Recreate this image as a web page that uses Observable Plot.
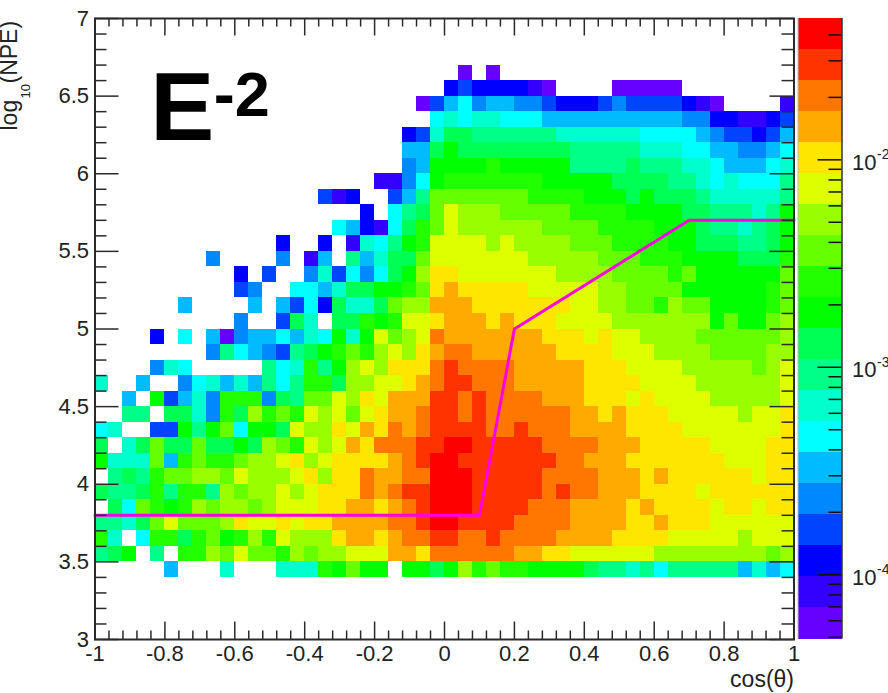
<!DOCTYPE html>
<html>
<head>
<meta charset="utf-8">
<script src="https://cdn.jsdelivr.net/npm/d3@7"></script>
<script src="https://cdn.jsdelivr.net/npm/@observablehq/plot@0.6"></script>
<style>
html,body{margin:0;padding:0;background:#fff;}
#wrap{position:relative;width:888px;height:693px;overflow:hidden;}
#wrap svg{position:absolute;left:0;top:0;display:block;max-width:none;background:transparent;}
</style>
</head>
<body>
<div id="wrap"></div>
<script>
// colour levels, bottom to top of the palette
const palette = ["#6600ff","#3300ff","#0000ff","#0044ff","#0088ff","#00bbff","#00ffff","#00ffcc","#00ff88","#00ff55","#00ff00","#22ff00","#66ff00","#99ff00","#ddff00","#ffe600","#ffaa00","#ff7700","#ff3300","#ff0000"];
const levelKeys = "abcdefghijklmnopqrst";
const zMin = 4.9e-5, zMax = 0.048;

// histogram rows, top row = log10(NPE) 6.6-6.7
const topRowStart = 6.6;
const histRows = [
".......... .......... ......a.a. .......... ..........",
".......... .......... .....cdccc cba....aaa aa........",
".......... .......... ...adfgeff eedcccdedd ddcba....b",
".......... .......... ....ghghhg ggffffffff ffeeccbbcd",
".......... .......... ..cdhjjiii iiihhhhhhg gggfeddcdf",
".......... .......... ..ffjkjjjj jjjjiiiiih hhggffeefg",
".......... .......... ..efkkkklk kkkkiiiiji iihhgfffgh",
".......... .......... bbegklllll llkkkkkjjj jiihghgggi",
".......... ......dbc. .dfimmmmmm mllllkkkjk jjjihhhhhi",
".......... .........c .gijmonnnm mmmmllllkk kkjjiiihik",
".......... .......gfc bgjlmonnnn nnmmmmllll kkkjiihijk",
".......... ...c..c.bh gikloooono nnnnmmmlll lkkjjjiijk",
"........e. ...e.bf.if hjjmoooooo onnnnnmmml llkkkkjjjl",
".......... c.d..ehdge gjknppoooo ooonnnnmmm mlmkkkkkkm",
".......... de..ggfhjj kklmpqpppp pooooonnmm mmkkkkkklm",
"......f... .f.fdgcjhh jmnnqqqppp ppppoonnmm lnmmkkkklm",
".......... e..djh.jjl kloopqqqpq pppoooonnn nnnnkmkkmn",
"....c.g.fa effgfhgkhk omnorqqqqq qqpppopoon nnnmmmmmmn",
"........ei gfedijklml nonpqrrqqq qqqppppooo nnnnmmmmnn",
"....ehg... ..ighlikno nppprsrrrr qqqqqpppoo oonnnnnmno",
"h..f..eghf hfigilljnn oopqrssrrr qqqqqppppo ooonnnnnno",
"..f.kdfhel llejimmonp oqqqssrsrr rrqqqpppop oooonnnnno",
"..ii.jjhel jnlmlonomo pqqrssrsrr rrrrqqpqpp pooooonoop",
"gh..ddkikm gkkjonnpoq prqrssssrr srrrqqqqpp ppooooooop",
"j.hjmjjmjj kjnmlonoqp rrrssttsss ssrrrrqqqp ppppoooopp",
"khhhmflmll mnnopnoppp pqrsttssss sssrrqqqpp pppppooopp",
".ijilmmnnm onnnopnppr qqrrtttsss ssrrrrqqqp qppppppopp",
"jiijlillin mnnonopppr qrsstttsss ssrsrrqqqp pppopppppp",
".jgmlklnmn nmnoooppqq pqrstttsss srrrqqqqpq ppppoppopp",
"iihjmommmn poopoppqqq qrrsttssss rrrrqqqqpp qpppoooooo",
"lh.glljlmk lnlonnnpqq pqrrssrrsr rrrqqqqppp pooooonooo",
"ijk.i.llnm ommlnmnnoo oqqprrrrrr qqppoooooo nnnnnnnnmn",
".....f...h ...hhhlkmk k.kkjknlml lkkkkjiihi giiiiifhfg"
];

// threshold line
const cutX = [-1, 0.1, 0.2, 0.7, 1];
const cutY = [3.8, 3.8, 5, 5.7, 5.7];

// tick values
const xMajor = [-1,-0.8,-0.6,-0.4,-0.2,0,0.2,0.4,0.6,0.8,1];
const yMajor = [3,3.5,4,4.5,5,5.5,6,6.5,7];
const zMajor = [1e-4,1e-3,1e-2];
const zExp = ["-4","-3","-2"];
const xMinor = d3.range(0,51).map(i => -1 + i*0.04).filter(v => !xMajor.some(m => Math.abs(m-v) < 1e-6));
const yMinor = d3.range(0,41).map(i => 3 + i*0.1).filter(v => !yMajor.some(m => Math.abs(m-v) < 1e-6));
const zMinor = [];
for (const d of [1e-5,1e-4,1e-3,1e-2]) for (const k of [2,3,4,5,6,7,8,9]) { const v=d*k; if (v>zMin && v<zMax) zMinor.push(v); }

const logMin = Math.log10(zMin), logStep = (Math.log10(zMax)-logMin)/palette.length;
const edges = d3.range(0,palette.length+1).map(i => Math.pow(10, logMin + i*logStep));

const cells = [];
histRows.forEach((row, ri) => {
  const s = row.replace(/ /g,"");
  const yLow = topRowStart - ri*0.1;
  [...s].forEach((ch, c) => {
    const lvl = levelKeys.indexOf(ch);
    if (lvl < 0) return;
    cells.push({x1:-1+c*0.04, x2:-1+(c+1)*0.04, y1:yLow, y2:yLow+0.1, z:Math.pow(10, logMin+(lvl+0.5)*logStep)});
  });
});

const ink = "#2a2a2a";
const font = "'Liberation Sans', Arial, sans-serif";
const colorScale = {type:"threshold", domain: edges.slice(1,-1), range: palette};

const main = Plot.plot({
  width:888, height:693,
  marginLeft:94.5, marginRight:94.5, marginTop:18, marginBottom:54,
  style:{fontFamily:font, background:"transparent", overflow:"visible"},
  x:{domain:[-1,1]}, y:{domain:[3,7]}, color:colorScale,
  marks:[
    Plot.rect(cells,{x1:"x1",x2:"x2",y1:"y1",y2:"y2",fill:"z",inset:0,shapeRendering:"crispEdges"}),
    Plot.line(cutX.map((x,i)=>({x,y:cutY[i]})),{x:"x",y:"y",stroke:"#ff00e0",strokeWidth:3}),
    // ticks on all four sides
    Plot.ruleX(xMajor,{y1:3,y2:3+0.1127,stroke:ink,strokeWidth:1.5}),
    Plot.ruleX(xMinor,{y1:3,y2:3+0.055,stroke:ink,strokeWidth:1.5}),
    Plot.ruleX(xMajor,{y1:7,y2:7-0.1127,stroke:ink,strokeWidth:1.5}),
    Plot.ruleX(xMinor,{y1:7,y2:7-0.055,stroke:ink,strokeWidth:1.5}),
    Plot.ruleY(yMajor,{x1:-1,x2:-1+0.0687,stroke:ink,strokeWidth:1.5}),
    Plot.ruleY(yMinor,{x1:-1,x2:-1+0.0343,stroke:ink,strokeWidth:1.5}),
    Plot.ruleY(yMajor,{x1:1,x2:1-0.0687,stroke:ink,strokeWidth:1.5}),
    Plot.ruleY(yMinor,{x1:1,x2:1-0.0343,stroke:ink,strokeWidth:1.5}),
    Plot.frame({stroke:ink,strokeWidth:2}),
    Plot.axisX({anchor:"bottom",ticks:xMajor,tickSize:0,tickPadding:6,fontSize:22,label:null,tickFormat:d=>String(d),fill:"#222"}),
    Plot.axisY({anchor:"left",ticks:yMajor,tickSize:0,tickPadding:6,fontSize:22,label:null,tickFormat:d=>String(d),fill:"#222"}),
    Plot.text(["cos(θ)"],{frameAnchor:"bottom-right",dy:47,dx:0,textAnchor:"end",lineAnchor:"bottom",fontSize:23,fill:"#222"}),
    Plot.text(["log"],{frameAnchor:"top-left",dx:-78.5,dy:112,rotate:-90,textAnchor:"start",lineAnchor:"bottom",fontSize:23,fill:"#222"}),
    Plot.text(["10"],{frameAnchor:"top-left",dx:-65,dy:80,rotate:-90,textAnchor:"start",lineAnchor:"bottom",fontSize:13,fill:"#222"}),
    Plot.text(["(NPE)"],{frameAnchor:"top-left",dx:-78.5,dy:65,rotate:-90,textAnchor:"start",lineAnchor:"bottom",fontSize:23,fill:"#222"}),
    Plot.text(["E"],{x:()=>-0.842,y:()=>6.217,textAnchor:"start",lineAnchor:"bottom",fontSize:96,fontWeight:"bold",fill:"#000"}),
    Plot.text(["-2"],{x:()=>-0.66,y:()=>6.375,textAnchor:"start",lineAnchor:"bottom",fontSize:63,fontWeight:"bold",fill:"#000"})
  ]
});

const bar = Plot.plot({
  width:888, height:693,
  marginLeft:797.5, marginRight:46.5, marginTop:18, marginBottom:54.5,
  style:{fontFamily:font, background:"transparent"},
  x:{domain:[0,1],axis:null}, y:{type:"log",domain:[zMin,zMax],axis:null}, color:colorScale,
  marks:[
    Plot.rect(palette.map((c,i)=>({y1:edges[i],y2:edges[i+1],z:Math.sqrt(edges[i]*edges[i+1])})),{x1:()=>0,x2:()=>1,y1:"y1",y2:"y2",fill:"z",shapeRendering:"crispEdges"}),
    Plot.ruleY(zMajor,{x1:1-24/44,x2:1,stroke:"#111",strokeWidth:1.5}),
    Plot.ruleY(zMinor,{x1:1-13/44,x2:1,stroke:"#111",strokeWidth:1.5}),
    Plot.ruleX([1],{stroke:"#333",strokeWidth:1.5}),
    Plot.ruleX([0],{stroke:"#bbb",strokeWidth:1}),
    Plot.text(zMajor,{x:()=>1,y:d=>d,text:()=>"10",dx:10,dy:3,textAnchor:"start",fontSize:22,fill:"#222"}),
    Plot.text(zMajor,{x:()=>1,y:d=>d,text:(d,i)=>zExp[i],dx:35,dy:-5,textAnchor:"start",fontSize:14,fill:"#222"})
  ]
});

const wrap = document.getElementById("wrap");
wrap.appendChild(main);
wrap.appendChild(bar);
</script>
</body>
</html>
